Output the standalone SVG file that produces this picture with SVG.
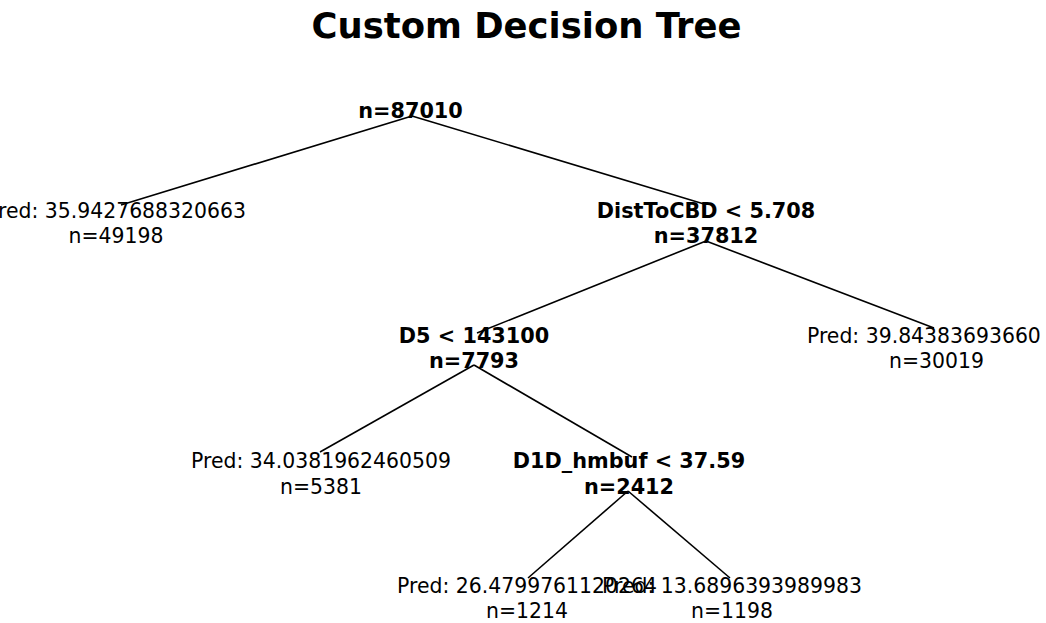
<svg xmlns="http://www.w3.org/2000/svg" width="1046" height="623" viewBox="0 0 1046 623">
  <style>
    text { font-family: "DejaVu Sans", Verdana, sans-serif; fill: #000; }
    .title { font-size: 35.4px; font-weight: bold; text-anchor: middle; }
    .split { font-size: 20.8px; font-weight: bold; text-anchor: middle; }
    .leaf { font-size: 20.4px; text-anchor: middle; }
    .edge { stroke: #000; stroke-width: 1.6; fill: none; stroke-linecap: butt; }
  </style>
  <rect width="1046" height="623" fill="#fff"/>

  <text class="title" x="526.5" y="38">Custom Decision Tree</text>

  <!-- branches between parent split and child -->
  <g id="connectors">
    <line class="edge" x1="412" y1="116" x2="121" y2="205"/>
    <line class="edge" x1="412" y1="116" x2="704" y2="204"/>
    <line class="edge" x1="706" y1="241" x2="477" y2="333"/>
    <line class="edge" x1="706" y1="241" x2="934" y2="328"/>
    <line class="edge" x1="474" y1="365" x2="320" y2="452"/>
    <line class="edge" x1="474" y1="365" x2="632" y2="457"/>
    <line class="edge" x1="628" y1="491" x2="528" y2="578"/>
    <line class="edge" x1="628" y1="491" x2="730" y2="578"/>
  </g>

  <g id="node-root">
    <text class="split" x="410.5" y="118">n=87010</text>
  </g>

  <g id="node-leaf-1">
    <text class="leaf" x="116" y="218">Pred: 35.9427688320663</text>
    <text class="leaf" x="116" y="243">n=49198</text>
  </g>

  <g id="node-disttocbd">
    <text class="split" x="706" y="218">DistToCBD &lt; 5.708</text>
    <text class="split" x="706" y="243">n=37812</text>
  </g>

  <g id="node-d5">
    <text class="split" x="474" y="343">D5 &lt; 143100</text>
    <text class="split" x="474" y="368">n=7793</text>
  </g>

  <g id="node-leaf-2">
    <text class="leaf" x="807" y="343" style="text-anchor:start">Pred: 39.84383693660</text>
    <text class="leaf" x="936.5" y="368">n=30019</text>
  </g>

  <g id="node-leaf-3">
    <text class="leaf" x="321" y="468">Pred: 34.0381962460509</text>
    <text class="leaf" x="321" y="494">n=5381</text>
  </g>

  <g id="node-d1d-hmbuf">
    <text class="split" x="629" y="468">D1D_hmbuf &lt; 37.59</text>
    <text class="split" x="629" y="494">n=2412</text>
  </g>

  <g id="node-leaf-4">
    <text class="leaf" x="527" y="593">Pred: 26.4799761120264</text>
    <text class="leaf" x="527" y="618">n=1214</text>
  </g>

  <g id="node-leaf-5">
    <text class="leaf" x="732" y="593">Pred: 13.6896393989983</text>
    <text class="leaf" x="732" y="618">n=1198</text>
  </g>
</svg>
